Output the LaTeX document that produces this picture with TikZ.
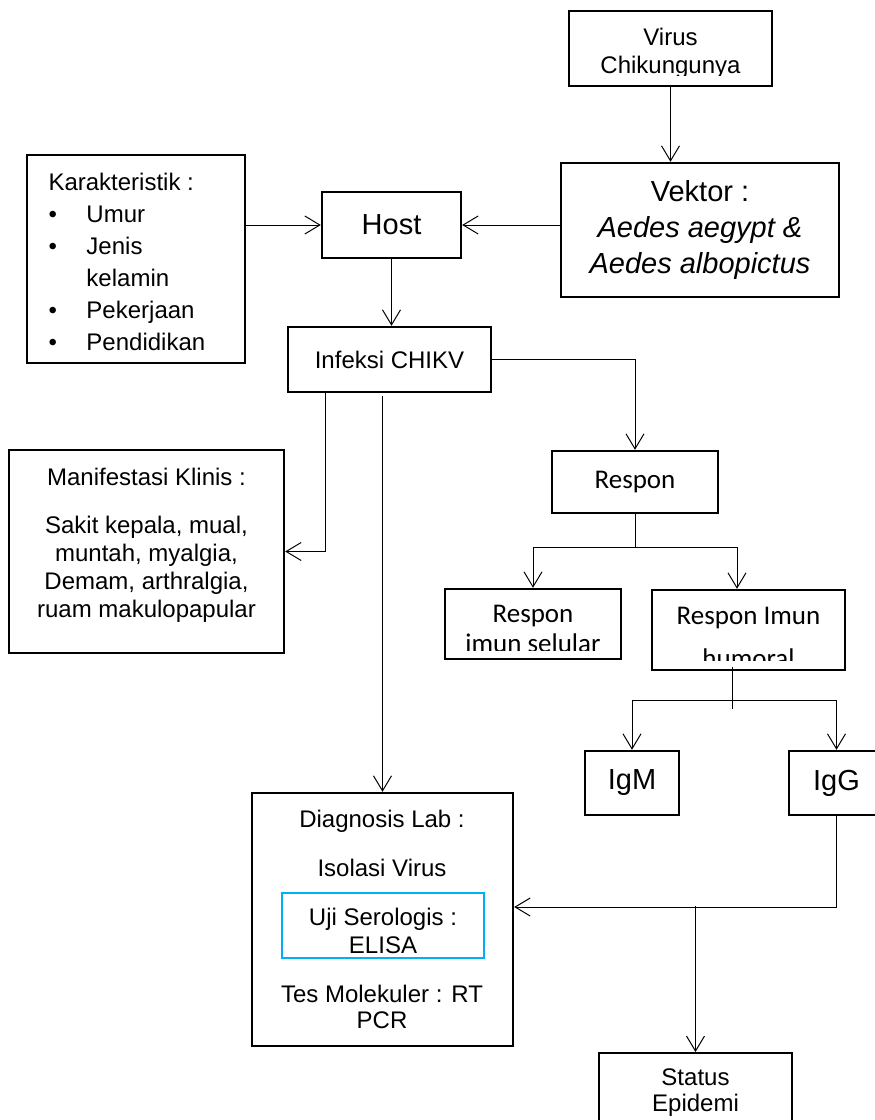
\documentclass[tikz,border=0pt]{standalone}
\usepackage{fontspec}
\setmainfont{Liberation Sans}
\newfontfamily\calibri{Carlito}
\usetikzlibrary{arrows.meta,positioning}
\definecolor{serob}{RGB}{0,176,240}

\begin{document}
\begin{tikzpicture}[x=1pt,y=-1pt,line width=1pt,
  font=\fontsize{24}{28}\selectfont,
  blk/.style={draw,line width=2.4pt,inner sep=0pt,align=center},
  txt/.style={align=center,inner sep=0pt},
  big/.style={font=\fontsize{29}{36}\selectfont},
  cal/.style={font=\calibri\fontsize{27}{30}\selectfont},
  arr/.style={-{Straight Barb[length=15pt,width=18pt]}}]
\useasboundingbox (0,0) rectangle (875,1120);

\node[blk,minimum width=203pt,minimum height=75pt] (virus) at (670.5,48.5) {};
\begin{scope}
  \clip (569,11) rectangle (772,75);
  \node[txt] (virustxt) at (670.5,53) {Virus\\Chikungunya};
\end{scope}
\node[blk,big,minimum width=278pt,minimum height=134pt] (vektor) at (700,230)
  {Vektor :\\\textit{Aedes aegypt \&}\\\textit{Aedes albopictus}};
\node[blk,big,minimum width=139pt,minimum height=66pt] (host) at (391.5,225) {Host};
\node[blk,minimum width=218pt,minimum height=208pt] (karak) at (136,259) {};
\node[txt,align=left,anchor=west,font=\fontsize{24}{32}\selectfont] (karaktxt) at (48,262)
  {Karakteristik :\\
   \makebox[38pt][l]{\textbullet}Umur\\
   \makebox[38pt][l]{\textbullet}Jenis\\
   \makebox[38pt][l]{}kelamin\\
   \makebox[38pt][l]{\textbullet}Pekerjaan\\
   \makebox[38pt][l]{\textbullet}Pendidikan};
\node[blk,minimum width=203pt,minimum height=65pt] (infeksi) at (389.5,359.5) {Infeksi CHIKV};
\node[blk,minimum width=275pt,minimum height=203pt] (manif) at (146.5,551.5) {};
\node[txt] (maniftxt) at (146.5,545)
  {Manifestasi Klinis :\\[20pt]Sakit kepala, mual,\\muntah, myalgia,\\Demam, arthralgia,\\ruam makulopapular};
\node[blk,cal,minimum width=166pt,minimum height=62pt] (respon) at (635,482) {Respon};
\node[blk,minimum width=176pt,minimum height=70pt] (selular) at (533,624) {};
\begin{scope}
  \clip (445,589) rectangle (621,650);
  \node[txt,cal] (selulartxt) at (533,629) {Respon\\imun selular};
\end{scope}
\node[blk,minimum width=193pt,minimum height=80pt] (humoral) at (748.5,630) {};
\begin{scope}
  \clip (652,590) rectangle (845,660);
  \node[txt,font=\calibri\fontsize{27}{43}\selectfont] (humoraltxt) at (748.5,637) {Respon Imun\\humoral};
\end{scope}
\node[blk,big,minimum width=94pt,minimum height=64pt] (igm) at (632,783) {IgM};
\node[blk,big,minimum width=95pt,minimum height=64pt] (igg) at (836.5,783) {IgG};
\node[blk,minimum width=261pt,minimum height=253pt] (diag) at (382.5,919.5) {};
\node[txt] (diagttl) at (382,821) {Diagnosis Lab :};
\node[txt] (isolasi) at (382,868) {Isolasi Virus};
\node[draw=serob,line width=1.8pt,minimum width=202pt,minimum height=65pt] (sero) at (383,925.5) {};
\node[txt] (serotxt) at (383,931) {Uji Serologis :\\ELISA};
\node[txt,font=\fontsize{24}{26}\selectfont] (molek) at (382,1007) {Tes Molekuler : RT\\PCR};
\node[blk,anchor=north,minimum width=193pt,minimum height=100pt] (status) at (695.5,1052) {};
\node[txt,font=\fontsize{24}{26}\selectfont] (statustxt) at (695.5,1092.5) {Status\\Epidemi};

\coordinate (rs) at (635,547);
\coordinate (hs) at (732,700);
\coordinate (gj) at (836.5,907);
\draw[arr] (virus.south) -- (virus.south |- vektor.north);
\draw[arr] (karak.east |- host.west) -- (host.west);
\draw[arr] (vektor.west |- host.east) -- (host.east);
\draw[arr] (host.south) -- (host.south |- infeksi.north);
\draw[arr] (infeksi.east) -| (respon.north);
\draw[arr] ([xshift=39pt]infeksi.south west) |- (manif.east);
\draw[arr] ([yshift=-3pt]infeksi.south -| diag.north) -- (diag.north);
\draw (respon.south) -- (rs);
\draw[arr] (rs) -| (selular.north);
\draw[arr] (rs) -| ([xshift=-11.5pt]humoral.north);
\draw ([yshift=4pt]humoral.south -| hs) -- ([yshift=-9pt]hs);
\draw[arr] (hs) -| (igm.north);
\draw[arr] (hs) -| (igg.north);
\draw[arr] (igg.south) -- (gj) -- (gj -| diag.east);
\draw[arr] ([yshift=1pt]gj -| status.north) -- (status.north);
\end{tikzpicture}
\end{document}
